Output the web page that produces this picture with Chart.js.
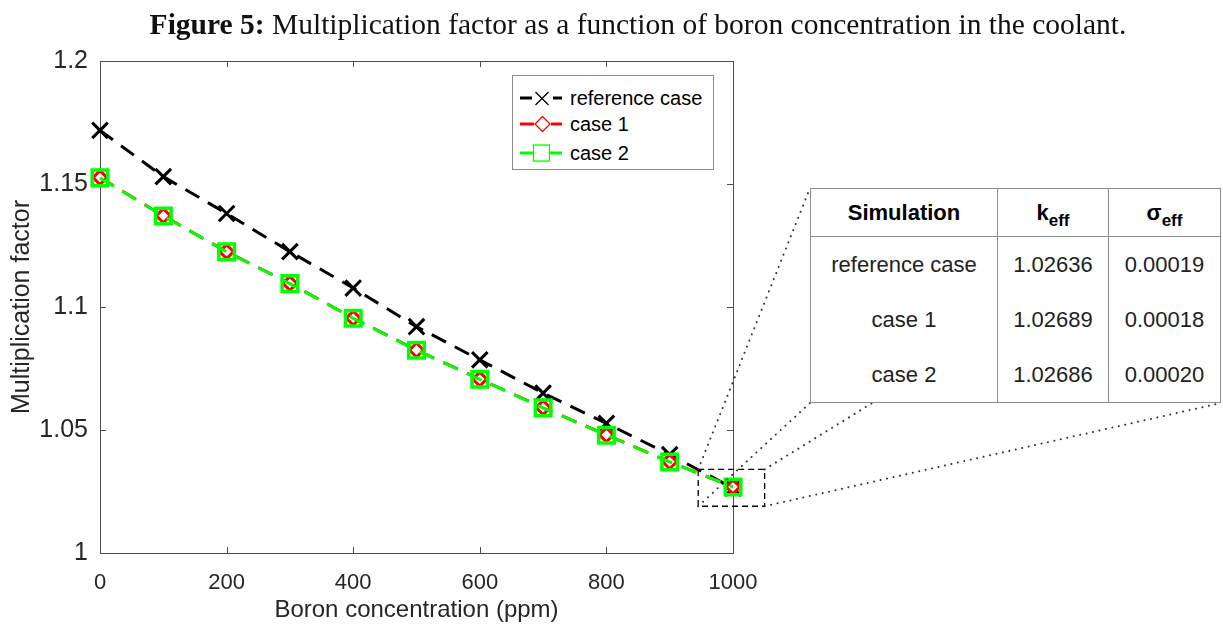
<!DOCTYPE html>
<html>
<head>
<meta charset="utf-8">
<script src="https://cdn.jsdelivr.net/npm/chart.js@4/dist/chart.umd.min.js"></script>
<style>
body { margin:0; background:#fff; }
#wrap { position:relative; width:1223px; height:626px; overflow:hidden; background:#fff; }
#title { position:absolute; left:138px; width:1000px; top:8px; line-height:33px; text-align:center; white-space:nowrap;
  font-family:"Liberation Serif", "Times New Roman", serif; font-size:29.5px; color:#111; }
#chartBox { position:absolute; left:0; top:0; width:1223px; height:626px; }
#legend { position:absolute; left:512px; top:75px; width:200px; height:93px; border:1px solid #8a8a8a; background:#fff;
  font-family:"Liberation Sans", Arial, sans-serif; font-size:20px; color:#000; }
.item { position:absolute; left:0; width:200px; height:28px; }
.item svg { position:absolute; left:7px; top:0; }
.item span { position:absolute; left:57px; top:0; line-height:28px; white-space:nowrap; }
#simTable { position:absolute; left:810px; top:188px; border-collapse:collapse; background:#fff;
  font-family:"Liberation Sans", Arial, sans-serif; font-size:22px; color:#222; }
#simTable td, #simTable th { border:1px solid #8c8c8c; text-align:center; padding:0; }
#simTable th { height:47px; font-weight:bold; color:#000; }
#simTable td { height:55px; border-top:none; border-bottom:none; }
#simTable tr:last-child td { border-bottom:1px solid #8c8c8c; }
#simTable sub { font-size:17px; vertical-align:-6px; line-height:0; }
</style>
</head>
<body>
<div id="wrap">
  <div id="chartBox"><canvas id="mainGraph"></canvas></div>
  <div id="title"><b>Figure 5:</b> Multiplication factor as a function of boron concentration in the coolant.</div>
  <div id="legend"></div>
  <table id="simTable"></table>
</div>
<script>
// boron concentration (ppm) and multiplication factor
var boron = [0, 100, 200, 300, 400, 500, 600, 700, 800, 900, 1000];
var refCase = [1.1718, 1.1530, 1.1380, 1.1225, 1.1077, 1.0920, 1.0785, 1.0650, 1.0527, 1.0400, 1.02636];
var case1 = [1.1526, 1.1371, 1.1225, 1.1096, 1.0955, 1.0825, 1.0707, 1.0591, 1.0480, 1.0371, 1.02689];
var case2 = [1.1525, 1.1370, 1.1224, 1.1095, 1.0954, 1.0824, 1.0706, 1.0590, 1.0479, 1.0370, 1.02686];

var seriesNames = ['reference case', 'case 1', 'case 2'];
var yTicks = [1, 1.05, 1.1, 1.15, 1.2];
var xTicks = [0, 200, 400, 600, 800, 1000];

// inset table
var tableHead = ['Simulation', 'k<sub>eff</sub>', '\u03c3<sub>eff</sub>'];
var keffValues = ['1.02636', '1.02689', '1.02686'];
var sigmaValues = ['0.00019', '0.00018', '0.00020'];

// zoomed region around the last point (data units)
var zoomBoxX = [945, 1050];
var zoomBoxY = [1.019, 1.034];

function toPoints(xs, ys) {
    var pts = [];
    for (var i = 0; i < xs.length; i++) pts.push({x: xs[i], y: ys[i]});
    return pts;
}

// table
var tbl = document.getElementById('simTable');
var html = '<tr>';
html += '<th style="width:186px">' + tableHead[0] + '</th>';
html += '<th style="width:110px">' + tableHead[1] + '</th>';
html += '<th style="width:111px">' + tableHead[2] + '</th></tr>';
for (var r = 0; r < seriesNames.length; r++) {
    html += '<tr><td>' + seriesNames[r] + '</td><td>' + keffValues[r] + '</td><td>' + sigmaValues[r] + '</td></tr>';
}
tbl.innerHTML = html;

// legend
var legendIcons = [
    '<line x1="0" y1="14" x2="12" y2="14" stroke="#000" stroke-width="3"/><line x1="33" y1="14" x2="42" y2="14" stroke="#000" stroke-width="3"/>' +
    '<path d="M15.5 8 L28.5 21 M28.5 8 L15.5 21" stroke="#000" stroke-width="1.3" fill="none"/>',
    '<line x1="0" y1="14" x2="14" y2="14" stroke="#f00" stroke-width="3"/><line x1="31" y1="14" x2="42" y2="14" stroke="#f00" stroke-width="3"/>' +
    '<path d="M22.5 6.5 L30 14 L22.5 21.5 L15 14 Z" stroke="#f00" stroke-width="1.3" fill="#fff"/>',
    '<line x1="0" y1="14" x2="13" y2="14" stroke="#0f0" stroke-width="3"/><line x1="30" y1="14" x2="42" y2="14" stroke="#0f0" stroke-width="3"/>' +
    '<rect x="13.5" y="6" width="16" height="16" stroke="#0f0" stroke-width="1.3" fill="#fff"/>'
];
var legendTops = [8, 34, 63];
var lg = document.getElementById('legend');
for (var i = 0; i < seriesNames.length; i++) {
    lg.innerHTML += '<div class="item" style="top:' + legendTops[i] + 'px"><svg width="42" height="28">' +
        legendIcons[i] + '</svg><span>' + seriesNames[i] + '</span></div>';
}

function line(ctx, x1, y1, x2, y2) {
    ctx.beginPath();
    ctx.moveTo(x1, y1);
    ctx.lineTo(x2, y2);
    ctx.stroke();
}

// axes box with inward ticks, like matlab
var boxPlugin = {
    id: 'matlabBox',
    beforeDatasetsDraw: function(chart) {
        var ctx = chart.ctx, a = chart.chartArea;
        var xs = chart.scales.x, ys = chart.scales.y;
        ctx.save();
        ctx.strokeStyle = '#4d4d4d';
        ctx.lineWidth = 1;
        ctx.strokeRect(Math.round(a.left) + 0.5, Math.round(a.top) + 0.5, Math.round(a.right - a.left), Math.round(a.bottom - a.top));
        xs.ticks.forEach(function(t) {
            var px = Math.round(xs.getPixelForValue(t.value)) + 0.5;
            line(ctx, px, a.bottom, px, a.bottom - 6);
            line(ctx, px, a.top, px, a.top + 6);
        });
        ys.ticks.forEach(function(t) {
            var py = Math.round(ys.getPixelForValue(t.value)) + 0.5;
            line(ctx, a.left, py, a.left + 6, py);
            line(ctx, a.right, py, a.right - 6, py);
        });
        ctx.restore();
    },
    afterDraw: function(chart) {
        var ctx = chart.ctx;
        var xs = chart.scales.x, ys = chart.scales.y;
        var x0 = xs.getPixelForValue(zoomBoxX[0]), x1 = xs.getPixelForValue(zoomBoxX[1]);
        var y0 = ys.getPixelForValue(zoomBoxY[1]), y1 = ys.getPixelForValue(zoomBoxY[0]);
        ctx.save();
        ctx.strokeStyle = '#000';
        ctx.lineWidth = 1.3;
        ctx.setLineDash([6, 4]);
        ctx.strokeRect(x0, y0, x1 - x0, y1 - y0);

        // dotted lines from zoom box to the table corners
        var wr = document.getElementById('wrap').getBoundingClientRect();
        var tr = tbl.getBoundingClientRect();
        var tl = tr.left - wr.left, tt = tr.top - wr.top, trr = tr.right - wr.left, tb = tr.bottom - wr.top;
        ctx.setLineDash([0.1, 6.5]);
        ctx.lineCap = 'round';
        ctx.lineWidth = 2;
        ctx.strokeStyle = '#333';
        line(ctx, x0, y0, tl, tt);
        line(ctx, x0, y1, tl, tb);
        line(ctx, x1, y0, trr, tt);
        line(ctx, x1, y1, trr, tb);
        ctx.restore();
    }
};

var xTickFont = {family: '"Liberation Sans", Arial, sans-serif', size: 22};
var yTickFont = {family: '"Liberation Sans", Arial, sans-serif', size: 25};
var titleFont = {family: '"Liberation Sans", Arial, sans-serif', size: 24};

var ctx = document.getElementById('mainGraph').getContext('2d');
var chart = new Chart(ctx, {
    type: 'line',
    data: {
        datasets: [
            {
                label: seriesNames[0],
                data: toPoints(boron, refCase),
                borderColor: '#000',
                borderWidth: 3,
                borderDash: [16, 10],
                pointStyle: 'crossRot',
                pointRadius: 11,
                pointBorderWidth: 3,
                pointBorderColor: '#000',
                fill: false,
                clip: false,
                order: 3
            },
            {
                label: seriesNames[1],
                data: toPoints(boron, case1),
                borderColor: '#ff0000',
                borderWidth: 3,
                borderDash: [16, 10],
                pointStyle: 'rectRot',
                pointRadius: 7,
                pointBorderWidth: 3,
                pointBorderColor: '#ff0000',
                pointBackgroundColor: '#fff',
                fill: false,
                clip: false,
                order: 2
            },
            {
                label: seriesNames[2],
                data: toPoints(boron, case2),
                borderColor: '#00ff00',
                borderWidth: 3,
                borderDash: [16, 10],
                pointStyle: 'rect',
                pointRadius: 11,
                pointBorderWidth: 3.5,
                pointBorderColor: '#00ff00',
                pointBackgroundColor: 'rgba(0,0,0,0)',
                fill: false,
                clip: false,
                order: 1
            }
        ]
    },
    options: {
        responsive: true,
        maintainAspectRatio: false,
        animation: false,
        events: [],
        layout: { padding: { top: 61, right: 490, left: 0, bottom: 0 } },
        plugins: {
            legend: { display: false },
            tooltip: { enabled: false }
        },
        scales: {
            x: {
                type: 'linear',
                min: 0,
                max: 1000,
                afterBuildTicks: function(s) { s.ticks = xTicks.map(function(v) { return {value: v}; }); },
                afterFit: function(s) { s.height = 73; },
                grid: { display: false },
                border: { display: false },
                ticks: {
                    padding: 9,
                    maxRotation: 0,
                    color: '#262626',
                    font: xTickFont,
                    callback: function(v) { return String(v); }
                },
                title: {
                    display: true,
                    text: 'Boron concentration (ppm)',
                    color: '#262626',
                    font: titleFont,
                    padding: { top: 0, bottom: 1 }
                }
            },
            y: {
                min: 1,
                max: 1.2,
                afterBuildTicks: function(s) { s.ticks = yTicks.map(function(v) { return {value: v}; }); },
                afterFit: function(s) { s.width = 100; },
                grid: { display: false },
                border: { display: false },
                ticks: {
                    padding: 4,
                    color: '#262626',
                    font: yTickFont,
                    callback: function(v) { return String(+v.toFixed(2)); }
                },
                title: {
                    display: true,
                    text: 'Multiplication factor',
                    color: '#262626',
                    font: {family: titleFont.family, size: 25},
                    padding: { top: 7, bottom: 0 }
                }
            }
        }
    },
    plugins: [boxPlugin]
});
</script>
</body>
</html>
